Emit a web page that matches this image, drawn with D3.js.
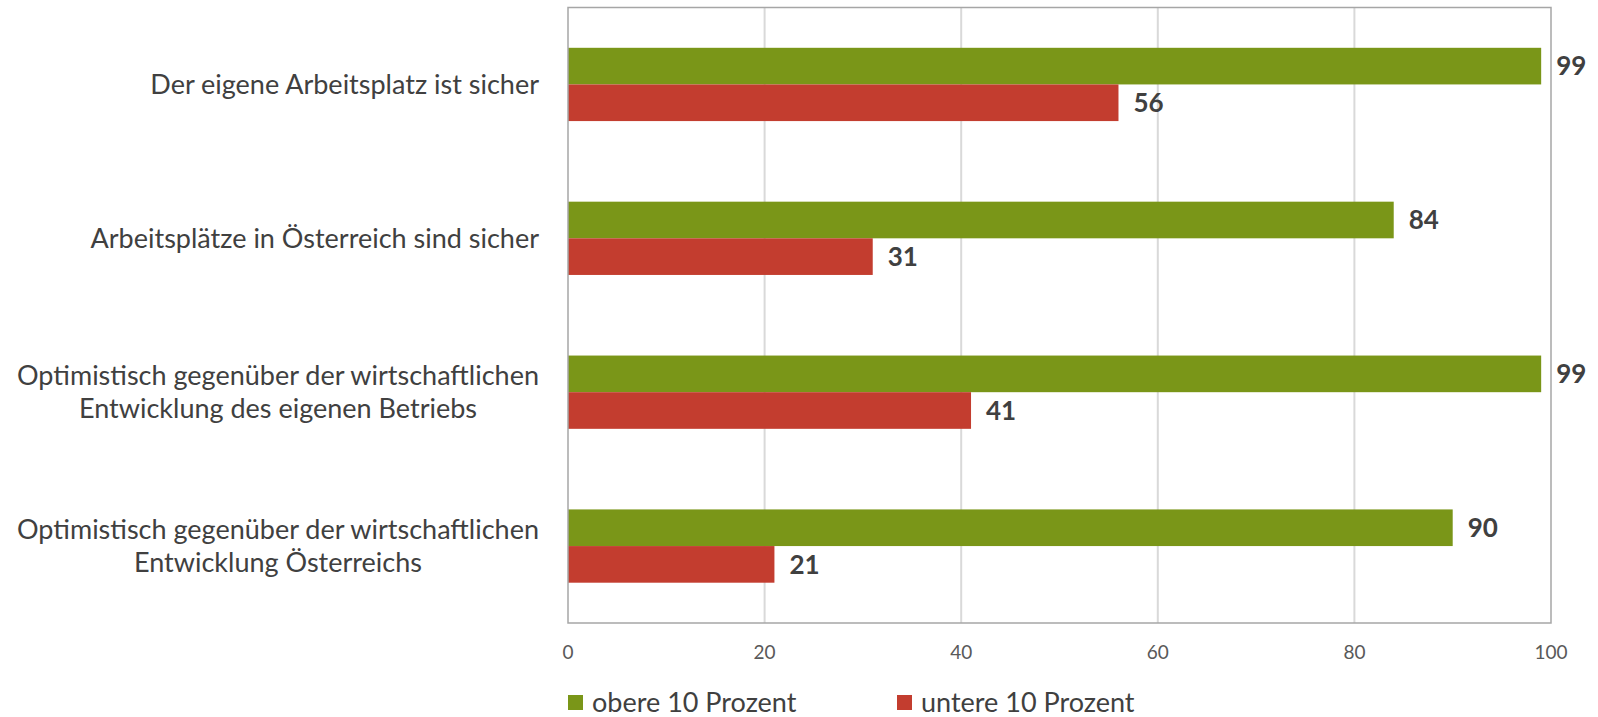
<!DOCTYPE html>
<html>
<head>
<meta charset="utf-8">
<script src="https://cdn.jsdelivr.net/npm/d3@7"></script>
<style>
  body { margin: 0; background: white; }
  text { font-family: Lato, "Open Sans", sans-serif; }
</style>
</head>
<body>
<script>
const width = 1598;
const height = 717;

// data
const categories = [
  ["Der eigene Arbeitsplatz ist sicher"],
  ["Arbeitsplätze in Österreich sind sicher"],
  ["Optimistisch gegenüber der wirtschaftlichen", "Entwicklung des eigenen Betriebs"],
  ["Optimistisch gegenüber der wirtschaftlichen", "Entwicklung Österreichs"]
];
const seriesNames = ["obere 10 Prozent", "untere 10 Prozent"];
const oberValues = [99, 84, 99, 90];
const unterValues = [56, 31, 41, 21];
const xTicks = [0, 20, 40, 60, 80, 100];
const colors = ["#7a9618", "#c33d2f"];

const plot = { left: 568, right: 1551, top: 7.5, bottom: 623 };

const svg = d3.select("body")
  .append("svg")
  .attr("width", width)
  .attr("height", height);

const x = d3.scaleLinear().domain([0, 100]).range([plot.left, plot.right]);
const catKeys = categories.map((c, i) => i);
const y0 = d3.scaleBand().domain(catKeys).range([plot.top, plot.bottom]).padding(0);
const y1 = d3.scaleBand().domain(seriesNames).range([0, y0.bandwidth()])
  .paddingInner(0).paddingOuter(1.1);

// gridlines
svg.append("g")
  .selectAll("line")
  .data(xTicks.slice(1, -1))
  .join("line")
  .attr("x1", d => x(d)).attr("x2", d => x(d))
  .attr("y1", plot.top).attr("y2", plot.bottom)
  .attr("stroke", "#d9d9d9")
  .attr("stroke-width", 2);

// bars
const rows = catKeys.map(i => ({ i, vals: [oberValues[i], unterValues[i]] }));
const groups = svg.append("g")
  .selectAll("g")
  .data(rows)
  .join("g")
  .attr("transform", d => `translate(0,${y0(d.i)})`);

groups.selectAll("rect")
  .data(d => d.vals.map((v, k) => ({ v, k })))
  .join("rect")
  .attr("x", x(0))
  .attr("y", d => y1(seriesNames[d.k]))
  .attr("width", d => x(d.v) - x(0))
  .attr("height", y1.bandwidth())
  .attr("fill", d => colors[d.k]);

// value labels
groups.selectAll("text")
  .data(d => d.vals.map((v, k) => ({ v, k })))
  .join("text")
  .attr("x", d => x(d.v) + 15)
  .attr("y", d => y1(seriesNames[d.k]) + y1.bandwidth() / 2)
  .attr("dy", "0.36em")
  .attr("font-size", 26)
  .attr("font-weight", "bold")
  .attr("fill", "#404040")
  .text(d => d.v);

// plot border
svg.append("rect")
  .attr("x", plot.left)
  .attr("y", plot.top)
  .attr("width", plot.right - plot.left)
  .attr("height", plot.bottom - plot.top)
  .attr("fill", "none")
  .attr("stroke", "#a6a6a6")
  .attr("stroke-width", 1.5);

// x tick labels
svg.append("g")
  .selectAll("text")
  .data(xTicks)
  .join("text")
  .attr("x", d => x(d))
  .attr("y", 652)
  .attr("dy", "0.35em")
  .attr("text-anchor", "middle")
  .attr("font-size", 19)
  .attr("fill", "#595959")
  .text(d => d);

// category labels: block right aligned, lines centered
const lineH = 33;
categories.forEach((lines, i) => {
  const cy = y0(i) + y0.bandwidth() / 2;
  const t = svg.append("text")
    .attr("font-size", 27)
    .attr("fill", "#404040")
    .attr("text-anchor", "middle");
  lines.forEach((ln, j) => {
    t.append("tspan")
      .attr("y", cy + (j - (lines.length - 1) / 2) * lineH)
      .attr("dy", "0.36em")
      .text(ln);
  });
  let maxW = 0;
  t.selectAll("tspan").each(function () {
    maxW = Math.max(maxW, this.getComputedTextLength());
  });
  t.selectAll("tspan").attr("x", 539 - maxW / 2);
});

// legend
const legendX = [568, 897];
const legend = svg.append("g")
  .selectAll("g")
  .data(seriesNames)
  .join("g")
  .attr("transform", (d, i) => `translate(${legendX[i]},702)`);

legend.append("rect")
  .attr("x", 0).attr("y", -7)
  .attr("width", 15).attr("height", 15)
  .attr("fill", (d, i) => colors[i]);

legend.append("text")
  .attr("x", 24)
  .attr("dy", "0.36em")
  .attr("font-size", 27)
  .attr("fill", "#404040")
  .text(d => d);
</script>
</body>
</html>
